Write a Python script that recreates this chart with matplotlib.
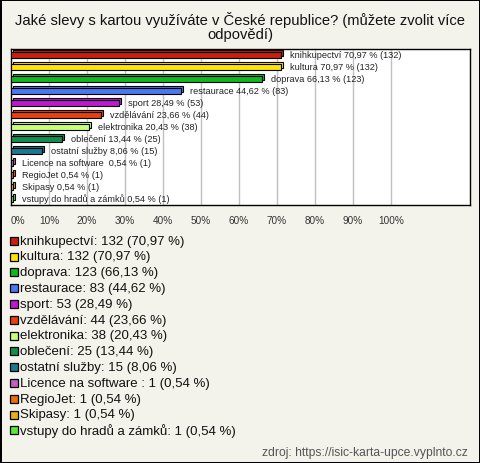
import matplotlib
matplotlib.use("Agg")
import matplotlib.pyplot as plt
from matplotlib.patches import Rectangle

plt.rcParams['font.family'] = ['Liberation Sans', 'DejaVu Sans']

# data
names = ["knihkupectví", "kultura", "doprava", "restaurace", "sport", "vzdělávání",
         "elektronika", "oblečení", "ostatní služby", "Licence na software ",
         "RegioJet", "Skipasy", "vstupy do hradů a zámků"]
counts = [132, 132, 123, 83, 53, 44, 38, 25, 15, 1, 1, 1, 1]
percents = [70.97, 70.97, 66.13, 44.62, 28.49, 23.66, 20.43, 13.44, 8.06, 0.54, 0.54, 0.54, 0.54]
colors = ["#c8200c", "#ffe400", "#10b820", "#4a78f0", "#c018d0", "#e84010",
          "#c8ff78", "#109050", "#1a7890", "#c060c0", "#e87010", "#e8b010", "#58e838"]
xticks = [0, 10, 20, 30, 40, 50, 60, 70, 80, 90, 100]
title = "Jaké slevy s kartou využíváte v České republice? (můžete zvolit více\nodpovědí)"
source = "zdroj: https://isic-karta-upce.vyplnto.cz"

W, H = 480, 464
bg = "#f4f3eb"

fig = plt.figure(figsize=(W / 100, H / 100), dpi=100)
fig.patch.set_facecolor(bg)
fig.patch.set_edgecolor("black")
fig.patch.set_linewidth(2)

# plot area in pixels
left, right, top, bottom = 11, 470, 50, 206
ax = fig.add_axes([left / W, 1 - bottom / H, (right - left) / W, (bottom - top) / H])
ax.set_facecolor("white")
xmax = 100 * (right - left) / 380
ax.set_xlim(0, xmax)
n = len(names)
ax.set_ylim(n - 0.5, -0.5)

px_x = xmax / (right - left)      # data units per pixel (x)
px_y = n / (bottom - top)         # data units per pixel (y)

for x in xticks[1:]:
    ax.axvline(x, color="#c0c0c0", lw=1, zorder=0)

bh = 5.5 * px_y
dx, dy = 2 * px_x, 2 * px_y
for i, (nm, c, p, v) in enumerate(zip(names, counts, percents, colors)):
    # depth face
    ax.barh(i - dy, p, height=bh, left=dx, color=v, edgecolor="black", lw=0.8, zorder=2)
    # front face
    ax.barh(i, p, height=bh, color=v, edgecolor="black", lw=0.8, zorder=3)
    lbl = f"{nm} {p:.2f} % ({c})".replace(".", ",")
    ax.text(p + 9 * px_x, i - 0.08, lbl, fontsize=6.6, color="#222222",
            va="center", ha="left", zorder=4)

ax.set_xticks(xticks)
ax.set_xticklabels([f"{x}%" for x in xticks], fontsize=7.2, color="#333333")
ax.get_xticklabels()[0].set_ha("left")
ax.tick_params(axis="x", length=0, pad=7)
ax.set_yticks([])
for s in ax.spines.values():
    s.set_color("black")
    s.set_linewidth(1)

# overlay in pixel coordinates for title, legend, source
ov = fig.add_axes([0, 0, 1, 1], facecolor="none")
ov.set_xlim(0, W)
ov.set_ylim(H, 0)
ov.axis("off")

ov.text(240, 27, title, fontsize=10.6, ha="center", va="center", color="#111111",
        linespacing=1.05)

y0, step = 241.7, 15.8
for i, (nm, c, p, v) in enumerate(zip(names, counts, percents, colors)):
    y = y0 + i * step
    ov.add_patch(Rectangle((10, y - 4), 8, 8, facecolor=v, edgecolor="black", lw=0.9))
    ov.text(20, y, f"{nm}: {c} ({p:.2f} %)".replace(".", ","), fontsize=9.5,
            va="center", ha="left", color="#111111")

ov.text(468, 453, source, fontsize=8.7, ha="right", va="center", color="#555555")

fig.savefig("out.png", dpi=100, facecolor=bg, edgecolor="black")
